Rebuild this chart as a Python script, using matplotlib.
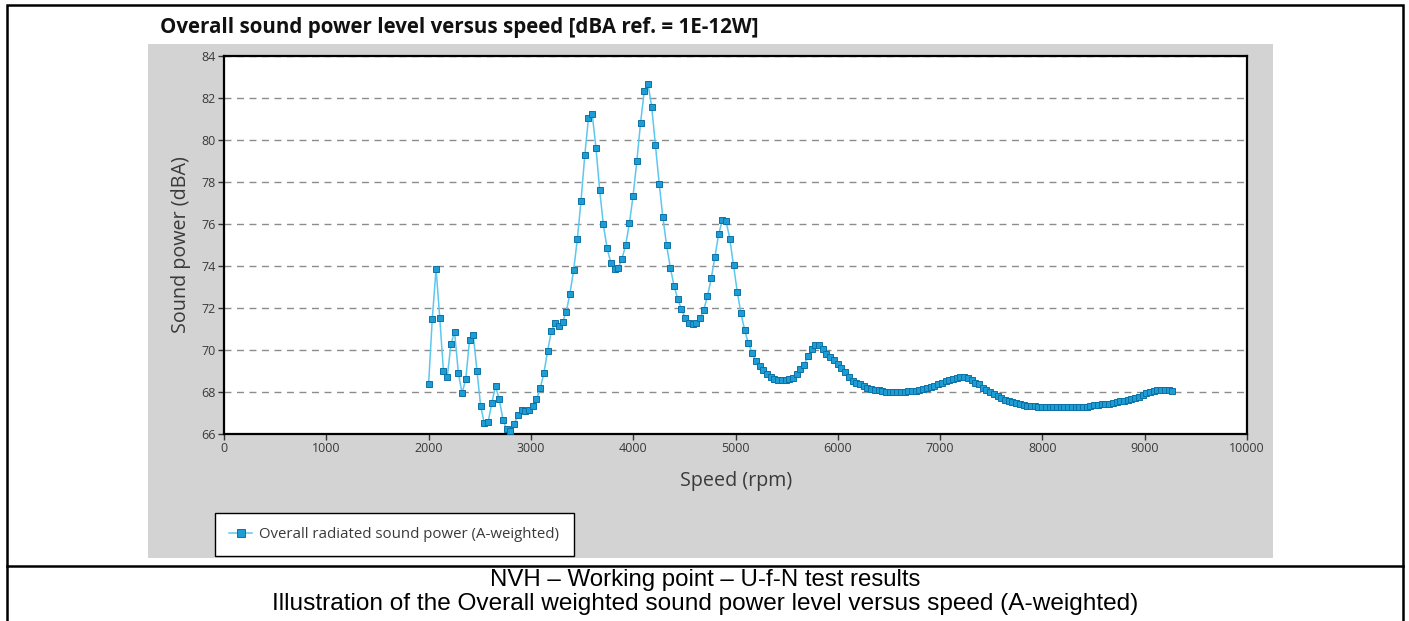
import matplotlib
matplotlib.use('Agg')
import matplotlib.pyplot as plt
from matplotlib.patches import Rectangle
from matplotlib.lines import Line2D

# ---------------- data ----------------
speed_rpm = [
    2000, 2036, 2073, 2109, 2145, 2182, 2218, 2254, 2291, 2327, 2364, 2400, 2436, 2473, 2509, 2545, 2582, 2618, 2654, 2691,
    2727, 2763, 2800, 2836, 2872, 2909, 2945, 2981, 3018, 3054, 3091, 3127, 3163, 3200, 3236, 3272, 3309, 3345, 3381, 3418,
    3454, 3490, 3527, 3563, 3599, 3636, 3672, 3708, 3745, 3781, 3818, 3854, 3890, 3927, 3963, 3999, 4036, 4072, 4108, 4145,
    4181, 4217, 4254, 4290, 4326, 4363, 4399, 4435, 4472, 4508, 4545, 4581, 4617, 4654, 4690, 4726, 4763, 4799, 4835, 4872,
    4908, 4944, 4981, 5017, 5053, 5090, 5126, 5162, 5199, 5235, 5272, 5308, 5344, 5381, 5417, 5453, 5490, 5526, 5562, 5599,
    5635, 5671, 5708, 5744, 5780, 5817, 5853, 5889, 5926, 5962, 5999, 6035, 6071, 6108, 6144, 6180, 6217, 6253, 6289, 6326,
    6362, 6398, 6435, 6471, 6507, 6544, 6580, 6616, 6653, 6689, 6726, 6762, 6798, 6835, 6871, 6907, 6944, 6980, 7016, 7053,
    7089, 7125, 7162, 7198, 7234, 7271, 7307, 7343, 7380, 7416, 7453, 7489, 7525, 7562, 7598, 7634, 7671, 7707, 7743, 7780,
    7816, 7852, 7889, 7925, 7961, 7998, 8034, 8070, 8107, 8143, 8180, 8216, 8252, 8289, 8325, 8361, 8398, 8434, 8470, 8507,
    8543, 8579, 8616, 8652, 8688, 8725, 8761, 8797, 8834, 8870, 8907, 8943, 8979, 9016, 9052, 9088, 9125, 9161, 9197, 9234,
    9270,
]

sound_power_dba = [
    68.38, 71.48, 73.86, 71.54, 69.00, 68.70, 70.27, 70.86, 68.90, 67.94, 68.63, 70.49, 70.73, 69.00, 67.32, 66.51, 66.57, 67.48, 68.27, 67.65,
    66.68, 66.22, 66.16, 66.46, 66.90, 67.13, 67.08, 67.13, 67.32, 67.65, 68.17, 68.90, 69.94, 70.90, 71.30, 71.13, 71.32, 71.81, 72.67, 73.81,
    75.29, 77.11, 79.29, 81.06, 81.24, 79.63, 77.63, 75.98, 74.84, 74.16, 73.86, 73.92, 74.33, 75.01, 76.03, 77.35, 79.01, 80.82, 82.32, 82.65,
    81.57, 79.75, 77.92, 76.32, 75.00, 73.92, 73.06, 72.44, 71.93, 71.54, 71.30, 71.24, 71.30, 71.54, 71.92, 72.56, 73.41, 74.43, 75.52, 76.19,
    76.14, 75.30, 74.03, 72.78, 71.75, 70.94, 70.32, 69.86, 69.48, 69.25, 69.03, 68.84, 68.70, 68.60, 68.59, 68.56, 68.56, 68.60, 68.68, 68.86,
    69.08, 69.30, 69.70, 70.05, 70.22, 70.22, 70.05, 69.81, 69.65, 69.51, 69.32, 69.14, 68.95, 68.73, 68.54, 68.44, 68.37, 68.27, 68.19, 68.13,
    68.11, 68.08, 68.03, 68.01, 68.00, 68.00, 68.00, 68.00, 68.00, 68.05, 68.05, 68.06, 68.11, 68.16, 68.17, 68.22, 68.29, 68.37, 68.44, 68.51,
    68.57, 68.62, 68.68, 68.70, 68.70, 68.67, 68.57, 68.44, 68.37, 68.21, 68.08, 68.00, 67.90, 67.80, 67.70, 67.63, 67.59, 67.54, 67.48, 67.42,
    67.38, 67.35, 67.33, 67.32, 67.30, 67.28, 67.28, 67.28, 67.28, 67.28, 67.28, 67.28, 67.28, 67.28, 67.28, 67.28, 67.28, 67.28, 67.32, 67.36,
    67.38, 67.41, 67.43, 67.45, 67.48, 67.51, 67.55, 67.59, 67.63, 67.67, 67.72, 67.78, 67.86, 67.94, 68.01, 68.06, 68.08, 68.09, 68.09, 68.08,
    68.04,
]

x_ticks = [0, 1000, 2000, 3000, 4000, 5000, 6000, 7000, 8000, 9000, 10000]
y_ticks = [66, 68, 70, 72, 74, 76, 78, 80, 82, 84]

chart_title = "Overall sound power level versus speed [dBA ref. = 1E-12W]"
x_label = "Speed (rpm)"
y_label = "Sound power (dBA)"
series_label = "Overall radiated sound power (A-weighted)"
caption_lines = [
    "NVH \u2013 Working point \u2013 U-f-N test results",
    "Illustration of the Overall weighted sound power level versus speed (A-weighted)",
]

# ---------------- figure ----------------
W, H = 1409, 621
fig = plt.figure(figsize=(W / 100, H / 100), dpi=100)
fig.patch.set_facecolor('white')


def fx(px):
    return px / W


def fy(py):
    return 1 - py / H


UI_FONT = ['Open Sans', 'DejaVu Sans']
CAP_FONT = ['Liberation Sans', 'DejaVu Sans']
TEXT_COL = '#3a3a3a'

# grey chart panel
fig.patches.append(Rectangle((fx(148), fy(558)), (1273 - 148) / W, (558 - 44) / H,
                             transform=fig.transFigure, facecolor='#d3d3d3',
                             edgecolor='none', zorder=0))
# outer table border and divider
fig.patches.append(Rectangle((fx(7), fy(630)), (1403 - 7) / W, (630 - 5) / H,
                             transform=fig.transFigure, fill=False,
                             edgecolor='black', linewidth=1.8, zorder=5))
fig.add_artist(Line2D([fx(7), fx(1403)], [fy(566), fy(566)],
                      transform=fig.transFigure, color='black', linewidth=1.8))

# title
fig.text(fx(160), fy(27), chart_title, family=UI_FONT, fontweight='bold',
         fontsize=14.8, color='#111111', ha='left', va='center')

# axes
ax = fig.add_axes([fx(224), fy(434), (1247 - 224) / W, (434 - 56) / H])
ax.set_zorder(3)
ax.set_facecolor('white')
line, = ax.plot(speed_rpm, sound_power_dba, color='#5cc8ee', linewidth=1.1,
                marker='s', markersize=3.9, markerfacecolor='#1e9dd4',
                markeredgecolor='#0b72a6', markeredgewidth=0.7,
                label=series_label, zorder=3)
ax.set_xlim(0, 10000)
ax.set_ylim(66, 84)
ax.set_xticks(x_ticks)
ax.set_yticks(y_ticks)
ax.yaxis.grid(True, linestyle=(0, (5, 4)), color='#8c8c8c', linewidth=1.0)
ax.xaxis.grid(False)
ax.set_axisbelow(True)
for s in ax.spines.values():
    s.set_linewidth(1.6)
    s.set_color('black')
ax.tick_params(direction='out', length=4, width=1, color='#333333',
               labelsize=9, labelcolor=TEXT_COL, pad=2)
for lab in ax.get_xticklabels() + ax.get_yticklabels():
    lab.set_family(UI_FONT)

# axis labels
fig.text(fx(181), fy(245), y_label, family=UI_FONT, fontsize=14.2,
         color=TEXT_COL, rotation=90, ha='center', va='center', zorder=4)
fig.text(fx(736), fy(481), x_label, family=UI_FONT, fontsize=14.2,
         color=TEXT_COL, ha='center', va='center', zorder=4)

# legend
leg = fig.legend(handles=[line], loc='lower left',
                 bbox_to_anchor=(fx(215), fy(556)), bbox_transform=fig.transFigure,
                 frameon=True, fancybox=False, edgecolor='black', facecolor='white',
                 framealpha=1, borderpad=0.95, handlelength=1.5, handletextpad=0.5,
                 borderaxespad=0, markerscale=1.3, prop={'family': UI_FONT, 'size': 10.8})
leg.set_zorder(6)
leg.get_frame().set_linewidth(1.0)
for t in leg.get_texts():
    t.set_color(TEXT_COL)

# caption
fig.text(fx(705), fy(580), caption_lines[0], family=CAP_FONT, fontsize=17.3,
         color='black', ha='center', va='center')
fig.text(fx(705), fy(604), caption_lines[1], family=CAP_FONT, fontsize=17.6,
         color='black', ha='center', va='center')

fig.savefig('out.png', dpi=100, facecolor='white')
